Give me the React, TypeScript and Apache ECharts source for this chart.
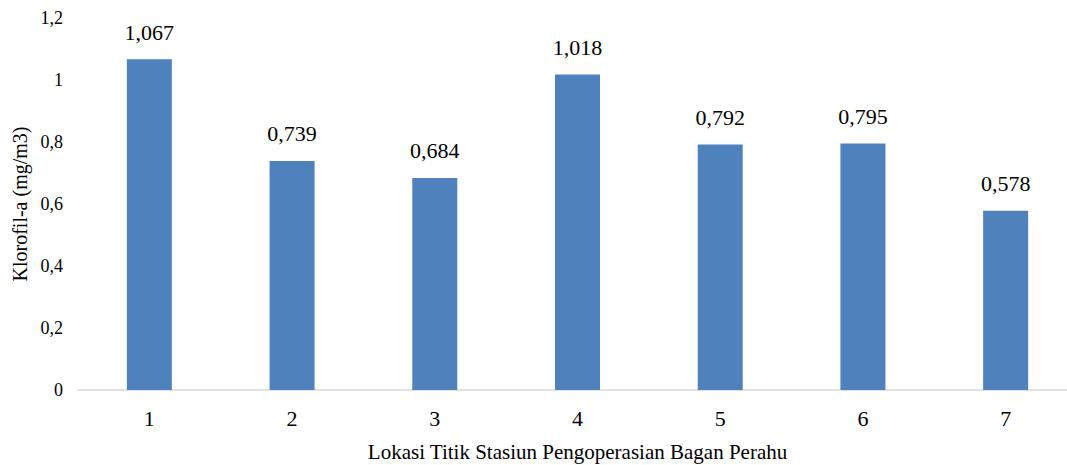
import React, { useEffect, useRef } from "react";
import * as echarts from "echarts";

const stations = ["1", "2", "3", "4", "5", "6", "7"];
const chlorophyll = [1.067, 0.739, 0.684, 1.018, 0.792, 0.795, 0.578];
const yTicks = { min: 0, max: 1.2, interval: 0.2 };

const serif = "Liberation Serif";
const comma = (v: number, digits?: number) =>
  (digits === undefined ? String(Math.round(v * 10) / 10) : v.toFixed(digits)).replace(".", ",");

export default function App() {
  const ref = useRef<HTMLDivElement>(null);

  useEffect(() => {
    if (!ref.current) return;
    const chart = echarts.init(ref.current, undefined, { renderer: "svg" });
    chart.setOption({
      animation: false,
      backgroundColor: "#ffffff",
      textStyle: { fontFamily: serif },
      grid: {
        left: 78,
        top: 18,
        bottom: 75,
        width: 999,
        containLabel: false,
        outerBoundsMode: "none",
      },
      xAxis: {
        type: "category",
        data: stations,
        name: "Lokasi Titik Stasiun Pengoperasian Bagan Perahu",
        nameLocation: "middle",
        nameGap: 51,
        nameTextStyle: { fontFamily: serif, fontSize: 21, color: "#000" },
        axisLine: { lineStyle: { color: "#D9D9D9", width: 1.5 } },
        axisTick: { show: false },
        axisLabel: { fontFamily: serif, fontSize: 22, color: "#000", margin: 17 },
      },
      yAxis: {
        type: "value",
        min: yTicks.min,
        max: yTicks.max,
        interval: yTicks.interval,
        name: "Klorofil-a (mg/m3)",
        nameLocation: "middle",
        nameGap: 48,
        nameTextStyle: { fontFamily: serif, fontSize: 20, color: "#000" },
        axisLine: { show: false },
        axisTick: { show: false },
        splitLine: { show: false },
        axisLabel: {
          fontFamily: serif,
          fontSize: 18,
          color: "#000",
          margin: 15,
          formatter: (v: number) => comma(v),
        },
      },
      series: [
        {
          type: "bar",
          data: chlorophyll,
          barWidth: 45,
          itemStyle: { color: "#4F81BD" },
          label: {
            show: true,
            position: "top",
            distance: 16,
            fontFamily: serif,
            fontSize: 22,
            color: "#000",
            formatter: (p: any) => comma(p.value, 3),
          },
        },
      ],
    });
    return () => chart.dispose();
  }, []);

  return (
    <div
      ref={ref}
      style={{ position: "fixed", left: 0, top: 0, width: 1067, height: 465, background: "#fff" }}
    />
  );
}
